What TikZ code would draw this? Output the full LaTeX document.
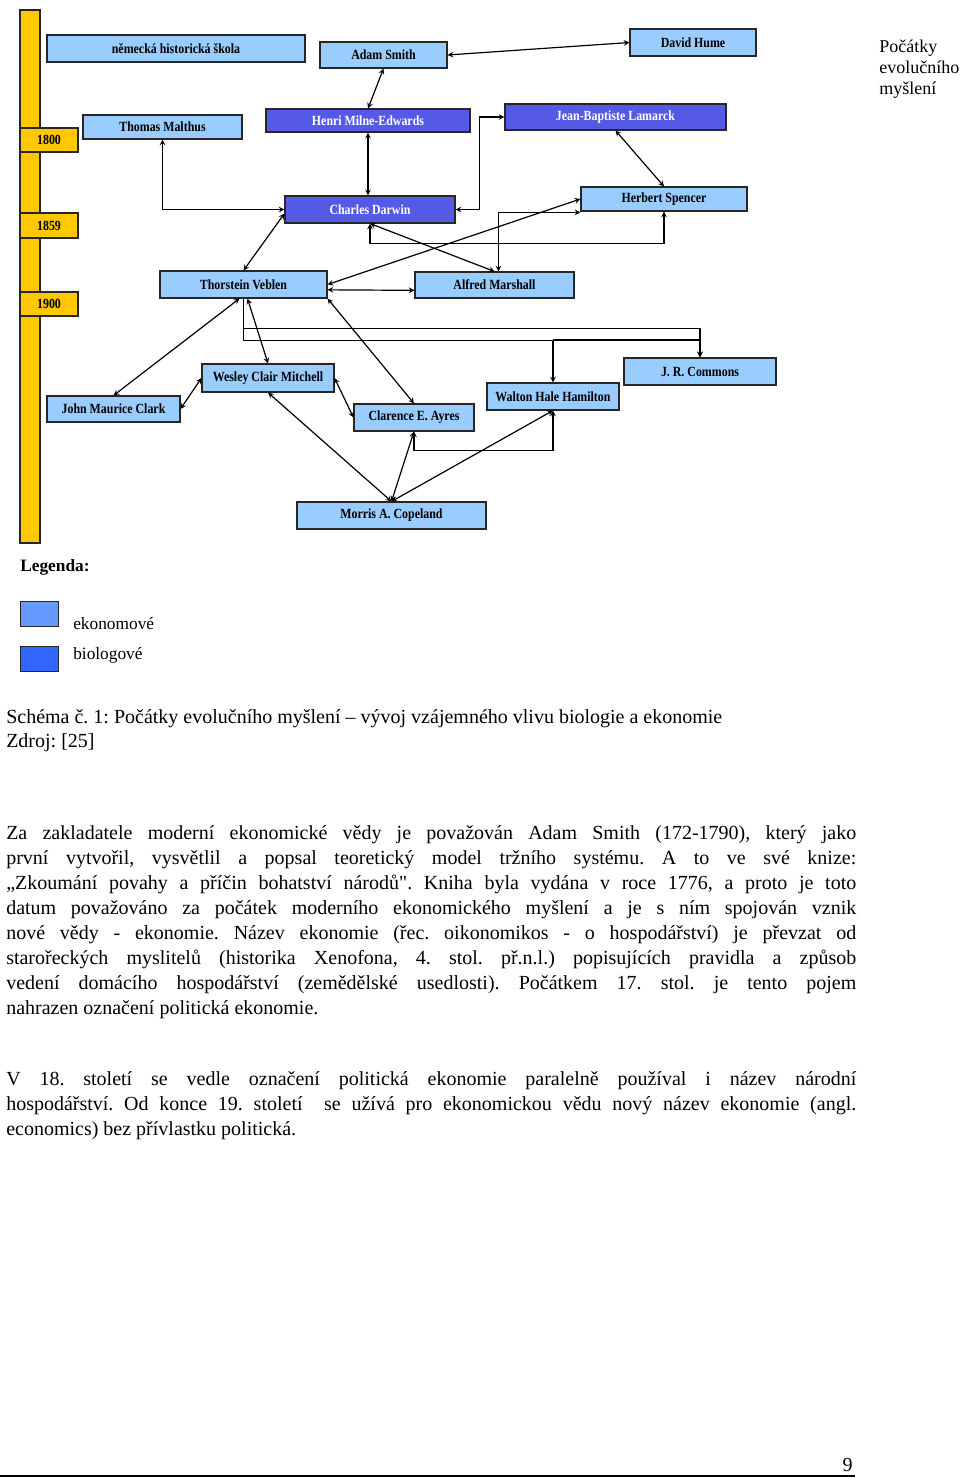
\documentclass[tikz,border=0pt]{standalone}
\usepackage{fontspec}
\setmainfont{Liberation Serif}[Ligatures=TeXOff]
\newfontfamily\boxfont{Liberation Serif}[FakeStretch=0.85]
\usetikzlibrary{calc}
\frenchspacing
\definecolor{zluta}{RGB}{255,200,0}
\definecolor{ekon}{RGB}{153,204,255}
\definecolor{biol}{RGB}{85,90,230}
\definecolor{ekonleg}{RGB}{102,153,255}
\definecolor{biolleg}{RGB}{51,102,255}
\tikzset{
 osoba/.style={draw=black!85, line width=0.8pt, inner sep=0pt,
   font=\boxfont\bfseries\fontsize{10.5}{11}\selectfont},
 ekonom/.style={osoba, fill=ekon, text=black},
 biolog/.style={osoba, fill=biol, text=white},
 rok/.style={osoba, fill=zluta, text=black, minimum width=43.5pt, minimum height=18pt},
 vazba/.style={<->, >=stealth, line width=0.9pt},
 odstavec/.style={inner sep=0pt, text width=637.5pt, align=justify,
   font=\fontsize{15}{18.75}\selectfont},
}
\begin{document}
\begin{tikzpicture}[x=0.75pt,y=-0.75pt]
\useasboundingbox (0,0) rectangle (960,1478);

% casova osa
\draw[fill=zluta, draw=black!85, line width=0.8pt] (20,10) rectangle (40,543);
\node[rok] (r1800) at (49,140) {1800};
\node[rok, minimum height=18.75pt] (r1859) at (49,225.5) {1859};
\node[rok] (r1900) at (49,304) {1900};

% osobnosti
\node[ekonom, minimum width=193.5pt, minimum height=20.25pt] (nhs) at (176,48.5) {německá historická škola};
\node[ekonom, minimum width=95.25pt, minimum height=19.5pt] (smith) at (383.5,55) {Adam Smith};
\node[ekonom, minimum width=94.5pt, minimum height=20.25pt] (hume) at (693,42.5) {David Hume};
\node[ekonom, minimum width=119.25pt, minimum height=18pt] (malthus) at (162.5,127) {Thomas Malthus};
\node[biolog, minimum width=153pt, minimum height=17.25pt] (milne) at (368,120.5) {Henri Milne-Edwards};
\node[biolog, minimum width=165.75pt, minimum height=19.5pt] (lamarck) at (615.5,117) {Jean-Baptiste Lamarck};
\node[biolog, minimum width=127.5pt, minimum height=20.25pt] (darwin) at (370,209.5) {Charles Darwin};
\node[ekonom, minimum width=124.5pt, minimum height=18pt] (spencer) at (664,199) {Herbert Spencer};
\node[ekonom, minimum width=125.25pt, minimum height=20.25pt] (veblen) at (243.5,284.5) {Thorstein Veblen};
\node[ekonom, minimum width=119.25pt, minimum height=19.5pt] (marshall) at (494.5,285) {Alfred Marshall};
\node[ekonom, minimum width=114pt, minimum height=20.25pt] (commons) at (700,371.5) {J. R. Commons};
\node[ekonom, minimum width=99pt, minimum height=20.25pt] (hamilton) at (553,396.5) {Walton Hale Hamilton};
\node[ekonom, minimum width=99pt, minimum height=21pt] (mitchell) at (268,378) {Wesley Clair Mitchell};
\node[ekonom, minimum width=99.75pt, minimum height=19.5pt] (clark) at (113.5,409) {John Maurice Clark};
\node[ekonom, minimum width=90pt, minimum height=20.25pt] (ayres) at (414,417.5) {Clarence E. Ayres};
\node[ekonom, minimum width=141.75pt, minimum height=20.25pt] (copeland) at (391.5,515.5) {Morris A. Copeland};

% vazby
\draw[vazba] (smith.east) -- (hume.west);
\draw[vazba] (smith.south) -- (milne.north);
\draw[vazba] (milne.south) -- (milne.south |- darwin.north);
\draw[vazba] (malthus.south) |- (darwin.west);
\draw[vazba] (lamarck.west) -- ++(-25,0) |- (darwin.east);
\draw[vazba] (lamarck.south) -- (spencer.north);
\draw[vazba] (darwin.south) -- ++(0,20) -| (spencer.south);
\draw[vazba] (darwin.south) -- (marshall.north);
\draw[vazba] (veblen.east) -- (spencer.west);
\draw[vazba] ([xshift=3pt]marshall.north) |- ([yshift=-10pt]spencer.west);
\draw[vazba] ([yshift=-3pt]darwin.west) -- (veblen.north);
\draw[vazba] ([yshift=-4pt]veblen.east) -- ([yshift=-4pt]marshall.west);
\draw[vazba] (veblen.south east) -- (ayres.north);
\draw[->, >=stealth, line width=0.9pt] (veblen.south) -- ++(0,30) -| (commons.north);
\draw[->, >=stealth, line width=0.9pt] (veblen.south) -- ++(0,42) -| (hamilton.north);
\draw[->, >=stealth, line width=0.9pt] (hamilton.north |- 0,340) -| (commons.north);
\draw[vazba] ([xshift=3pt]veblen.south) -- (mitchell.north);
\draw[vazba] ([xshift=-3pt]veblen.south) -- (clark.north);
\draw[vazba] (mitchell.west) -- (clark.east);
\draw[vazba] (mitchell.east) -- (ayres.west);
\draw[vazba] (mitchell.south) -- (copeland.north);
\draw[vazba] (ayres.south) -- (copeland.north);
\draw[vazba] (copeland.north) -- (hamilton.south);
\draw[vazba] (ayres.south) -- ++(0,19) -| (hamilton.south);

% legenda
\node[anchor=base west, inner sep=0pt, font=\bfseries\fontsize{13}{15}\selectfont] (leg) at (20,571) {Legenda:};
\node[draw=black!85, fill=ekonleg, minimum width=28.5pt, minimum height=18.75pt] (legE) at (39,613.5) {};
\node[draw=black!85, fill=biolleg, minimum width=28.5pt, minimum height=18.75pt] (legB) at (39,658.5) {};
\node[anchor=base west, inner sep=0pt, font=\fontsize{13}{15}\selectfont] (legEt) at (73,629) {ekonomové};
\node[anchor=base west, inner sep=0pt, font=\fontsize{13}{15}\selectfont] (legBt) at (73,659) {biologové};

% okraj
\node[anchor=north west, inner sep=0pt, align=left, font=\fontsize{13.5}{15.75}\selectfont] (okraj) at (879,40)
 {Počátky\\evolučního\\myšlení};

% text
\node[anchor=base west, inner sep=0pt, font=\fontsize{15}{18.75}\selectfont] (popis) at (6,723)
 {Schéma č. 1: Počátky evolučního myšlení – vývoj vzájemného vlivu biologie a ekonomie};
\node[anchor=base west, inner sep=0pt, font=\fontsize{15}{18.75}\selectfont] (zdroj) at (6,747) {Zdroj: [25]};

\node[odstavec, anchor=north west] (odst1) at (6,825)
 {Za zakladatele moderní ekonomické vědy je považován Adam Smith (172-1790), který jako\linebreak
 první vytvořil, vysvětlil a popsal teoretický model tržního systému. A to ve své knize:\linebreak
 „Zkoumání povahy a příčin bohatství národů". Kniha byla vydána v roce 1776, a proto je toto\linebreak
 datum považováno za počátek moderního ekonomického myšlení a je s ním spojován vznik\linebreak
 nové vědy - ekonomie. Název ekonomie (řec. oikonomikos - o hospodářství) je převzat od\linebreak
 starořeckých myslitelů (historika Xenofona, 4. stol. př.n.l.) popisujících pravidla a způsob\linebreak
 vedení domácího hospodářství (zemědělské usedlosti). Počátkem 17. stol. je tento pojem\linebreak
 nahrazen označení politická ekonomie.};

\node[odstavec, anchor=north west] (odst2) at (6,1071)
 {V 18. století se vedle označení politická ekonomie paralelně používal i název národní\linebreak
 hospodářství. Od konce 19. století~ se užívá pro ekonomickou vědu nový název ekonomie (angl.\linebreak
 economics) bez přívlastku politická.};

% strana
\draw[line width=0.8pt] (0,1476) -- (855,1476);
\node[anchor=base east, inner sep=0pt, font=\fontsize{15}{18.75}\selectfont] (strana) at (853,1471) {9};
\end{tikzpicture}
\end{document}
